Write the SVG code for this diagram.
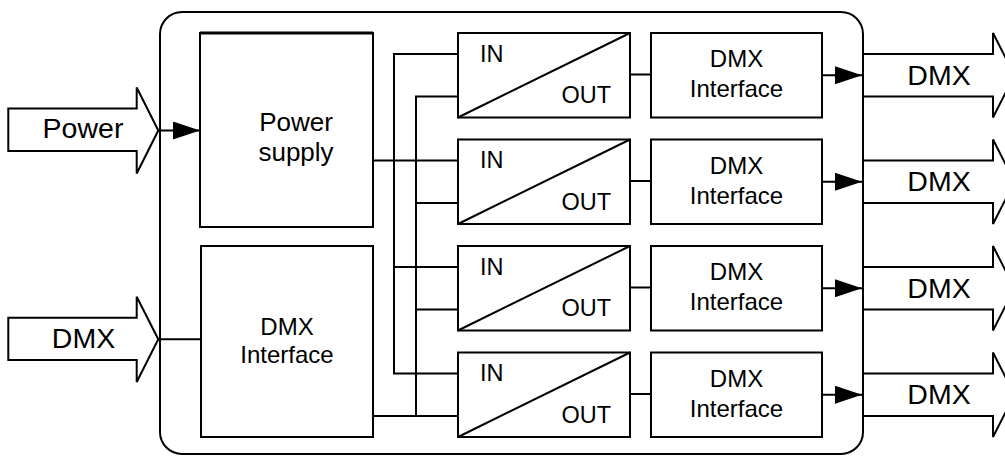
<svg xmlns="http://www.w3.org/2000/svg" width="1005" height="456" viewBox="0 0 1005 456">
<style>
.b{fill:#fff;stroke:#000;stroke-width:2}
.w{fill:none;stroke:#000;stroke-width:2}
.t{font-family:"Liberation Sans",Arial,Helvetica,sans-serif;fill:#000}
.m{text-anchor:middle}
.bx{font-size:24px}
.io{font-size:23.5px}
.ar{font-size:28.5px}
</style>
<defs>
<marker id="ah" viewBox="0 0 27 18" refX="27" refY="9" markerWidth="27" markerHeight="18" markerUnits="userSpaceOnUse" orient="auto">
<path d="M0,0 L27,9 L0,18 z" fill="#000"/>
</marker>
</defs>

<g id="device">
<rect class="b" x="160" y="12" width="703" height="442" rx="22" ry="22"/>
</g>

<g id="power-in">
<polygon class="b" points="8.3,108.5 136.7,108.5 136.7,87.5 158.3,130.5 136.7,173.5 136.7,151 8.3,151"/>
<text class="t m ar" x="83" y="137.5">Power</text>
</g>

<g id="dmx-in">
<polygon class="b" points="8.3,317.7 136.7,317.7 136.7,296.7 158.3,339.3 136.7,382 136.7,360 8.3,360"/>
<text class="t m ar" x="83.5" y="348.3">DMX</text>
</g>

<g id="power-supply">
<rect class="b" x="200" y="33" width="173" height="194"/>
<line x1="200" y1="33" x2="373" y2="33" stroke="#000" stroke-width="3"/>
<text class="t m" style="font-size:26px" x="296" y="130.7">Power</text>
<text class="t m" style="font-size:26px" x="296" y="161">supply</text>
</g>

<g id="dmx-interface-in">
<rect class="b" x="201" y="246" width="172" height="191"/>
<text class="t m bx" x="287" y="335">DMX</text>
<text class="t m bx" x="287" y="363">Interface</text>
</g>

<g id="converter-1">
<rect class="b" x="458" y="33" width="172" height="84.5"/>
<line class="w" x1="458" y1="117.5" x2="630" y2="33"/>
<text class="t io" x="480" y="61.5">IN</text>
<text class="t io" x="611" y="103" text-anchor="end">OUT</text>
</g>
<g id="converter-2">
<rect class="b" x="458" y="139.5" width="172" height="84.5"/>
<line class="w" x1="458" y1="224" x2="630" y2="139.5"/>
<text class="t io" x="480" y="168">IN</text>
<text class="t io" x="611" y="209.5" text-anchor="end">OUT</text>
</g>
<g id="converter-3">
<rect class="b" x="458" y="246" width="172" height="84.5"/>
<line class="w" x1="458" y1="330.5" x2="630" y2="246"/>
<text class="t io" x="480" y="274.5">IN</text>
<text class="t io" x="611" y="316" text-anchor="end">OUT</text>
</g>
<g id="converter-4">
<rect class="b" x="458" y="352.5" width="172" height="84.5"/>
<line class="w" x1="458" y1="437" x2="630" y2="352.5"/>
<text class="t io" x="480" y="381">IN</text>
<text class="t io" x="611" y="422.5" text-anchor="end">OUT</text>
</g>

<g id="dmx-interface-1">
<rect class="b" x="651" y="33" width="171" height="84.5"/>
<text class="t m bx" x="736.5" y="67">DMX</text>
<text class="t m bx" x="736.5" y="97">Interface</text>
</g>
<g id="dmx-interface-2">
<rect class="b" x="651" y="139.5" width="171" height="84.5"/>
<text class="t m bx" x="736.5" y="173.5">DMX</text>
<text class="t m bx" x="736.5" y="203.5">Interface</text>
</g>
<g id="dmx-interface-3">
<rect class="b" x="651" y="246" width="171" height="84.5"/>
<text class="t m bx" x="736.5" y="280">DMX</text>
<text class="t m bx" x="736.5" y="310">Interface</text>
</g>
<g id="dmx-interface-4">
<rect class="b" x="651" y="352.5" width="171" height="84.5"/>
<text class="t m bx" x="736.5" y="386.5">DMX</text>
<text class="t m bx" x="736.5" y="416.5">Interface</text>
</g>

<g id="dmx-out-1">
<polygon class="b" points="863,54 993,54 993,33 1014.5,75.25 993,117.5 993,96.5 863,96.5"/>
<text class="t m ar" x="939" y="85">DMX</text>
</g>
<g id="dmx-out-2">
<polygon class="b" points="863,160.5 993,160.5 993,139.5 1014.5,181.75 993,224 993,203 863,203"/>
<text class="t m ar" x="939" y="191">DMX</text>
</g>
<g id="dmx-out-3">
<polygon class="b" points="863,267 993,267 993,246 1014.5,288.25 993,330.5 993,309.5 863,309.5"/>
<text class="t m ar" x="939" y="297.5">DMX</text>
</g>
<g id="dmx-out-4">
<polygon class="b" points="863,373.5 993,373.5 993,352.5 1014.5,394.75 993,437 993,416 863,416"/>
<text class="t m ar" x="939" y="403.5">DMX</text>
</g>

<g id="connectors">
<path class="w" d="M158.3,130.5 H200" marker-end="url(#ah)"/>
<path class="w" d="M158.3,339.3 H201"/>
<path class="w" d="M373,160.5 H458"/>
<path class="w" d="M373,416 H458"/>
<path class="w" d="M458,54 H394 V373.5 H458"/>
<path class="w" d="M394,267 H458"/>
<path class="w" d="M458,96.5 H416 V416"/>
<path class="w" d="M416,203 H458"/>
<path class="w" d="M416,309.5 H458"/>
<path class="w" d="M630,74.5 H651"/>
<path class="w" d="M630,181 H651"/>
<path class="w" d="M630,287.5 H651"/>
<path class="w" d="M630,394 H651"/>
<path class="w" d="M822,75.25 H862" marker-end="url(#ah)"/>
<path class="w" d="M822,181.75 H862" marker-end="url(#ah)"/>
<path class="w" d="M822,288.25 H862" marker-end="url(#ah)"/>
<path class="w" d="M822,394.75 H862" marker-end="url(#ah)"/>
</g>
</svg>
